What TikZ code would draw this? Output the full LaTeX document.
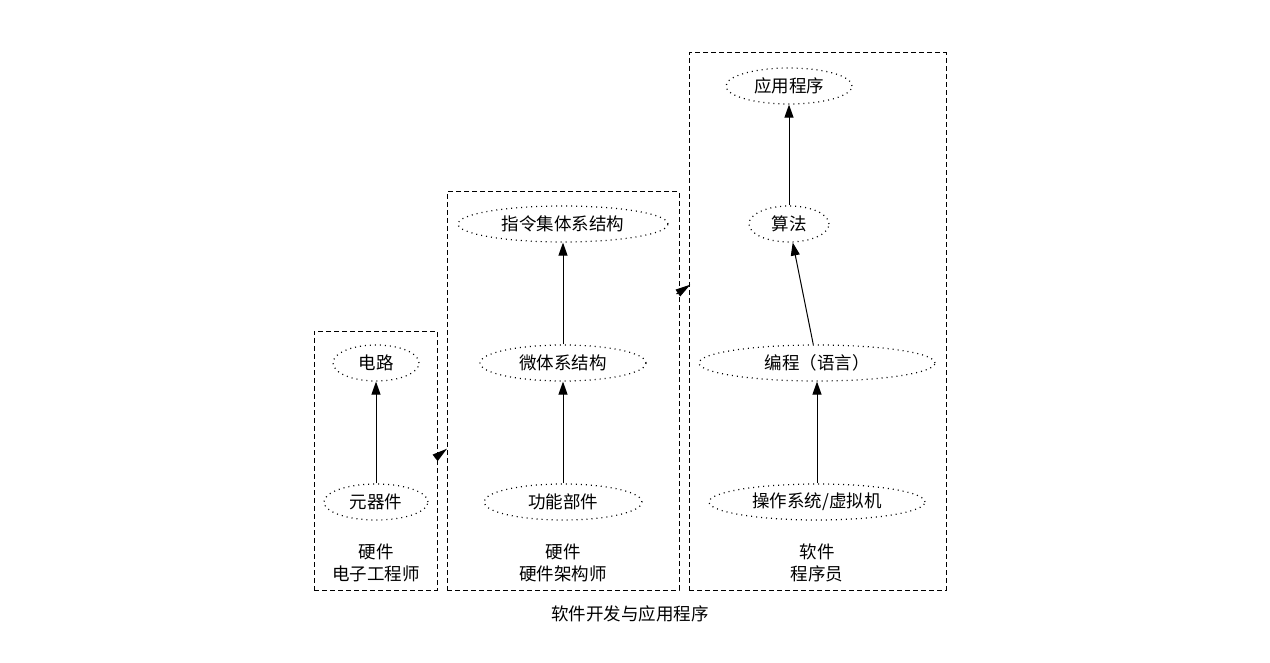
\documentclass[tikz,border=0pt]{standalone}
\usepackage{fontspec}
\setmainfont{Noto Sans CJK SC}
\usetikzlibrary{arrows.meta,shapes.geometric}

\begin{document}
\begin{tikzpicture}[
    x=1pt, y=-1pt,
    >={Triangle[length=13pt,width=9pt]},
    every node/.style={font=\fontsize{17.5}{22}\selectfont},
    topic/.style={
        ellipse, draw, line width=1.2pt,
        dash pattern=on 1pt off 4pt,
        minimum height=36pt, inner sep=0pt
    },
    cluster/.style={
        draw, line width=1pt,
        dash pattern=on 5pt off 3pt,
        inner sep=0pt
    },
    grouplabel/.style={align=center},
    edge/.style={->, line width=1pt},
    jump/.style={-{Triangle[length=15pt,width=8pt]}, line width=1pt},
]

\useasboundingbox (0,0) rectangle (1270,663);

% ===== Clusters =====
\node[cluster, minimum width=123pt, minimum height=259pt] (elec) at (375.5,460.5) {};
\node[cluster, minimum width=232pt, minimum height=398pt] (arch) at (563,391) {};
\node[cluster, minimum width=257pt, minimum height=537pt] (soft) at (817.5,321.5) {};

% ===== Hardware: electronics =====
\node[topic, minimum width=86pt] (dianlu) at (376,363) {电路};
\node[topic, minimum width=104pt] (yuanqijian) at (376,502) {元器件};
\node[grouplabel] (elecl) at (376,563) {硬件\\电子工程师};

% ===== Hardware: architecture =====
\node[topic, minimum width=210pt] (isa) at (563,224) {指令集体系结构};
\node[topic, minimum width=166pt] (micro) at (563,363) {微体系结构};
\node[topic, minimum width=158pt] (unit) at (563,502) {功能部件};
\node[grouplabel] (archl) at (563,563) {硬件\\硬件架构师};

% ===== Software =====
\node[topic, minimum width=126pt] (app) at (789,86) {应用程序};
\node[topic, minimum width=80pt] (algo) at (789,224) {算法};
\node[topic, minimum width=236pt] (lang) at (817,363) {编程（语言）};
\node[topic, minimum width=216pt] (os) at (817,502) {操作系统/虚拟机};
\node[grouplabel] (softl) at (817,563) {软件\\程序员};

% ===== Caption =====
\node (title) at (630,614) {软件开发与应用程序};

% ===== Edges inside clusters =====
\draw[edge] (yuanqijian) -- (dianlu);
\draw[edge] (unit) -- (micro);
\draw[edge] (micro) -- (isa);
\draw[edge] (os) -- (lang);
\draw[edge] (lang) -- (algo);
\draw[edge] (algo) -- (app);

% ===== Edges between clusters =====
\coordinate (elecout) at (435,458);
\coordinate (archin) at (447,448.7);
\coordinate (archout) at (676.5,294);
\coordinate (softin) at (690.3,284.7);
\draw[jump] (elecout) -- (archin);
\draw[jump] (archout) -- (softin);

\end{tikzpicture}
\end{document}
